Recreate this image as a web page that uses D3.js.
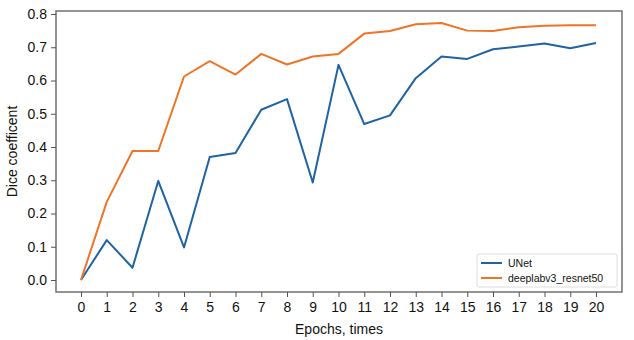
<!DOCTYPE html>
<html>
<head>
<meta charset="utf-8">
<script src="https://cdn.jsdelivr.net/npm/d3@7"></script>
<style>
  body { margin: 0; background: #fff; }
  text { font-family: "Liberation Sans", Arial, sans-serif; fill: #111; }
</style>
</head>
<body>
<div id="chart"></div>
<script>
// epochs along x, dice values per model
const epochs = d3.range(0, 21);
const unet = [0, 0.12, 0.037, 0.298, 0.098, 0.37, 0.382, 0.512, 0.544, 0.293, 0.647,
  0.469, 0.495, 0.607, 0.672, 0.665, 0.694, 0.702, 0.711, 0.697, 0.713];
const deeplab = [0, 0.235, 0.388, 0.388, 0.612, 0.658, 0.618, 0.68, 0.648, 0.672, 0.68,
  0.741, 0.749, 0.769, 0.773, 0.75, 0.749, 0.76, 0.765, 0.766, 0.766];
const yTicks = [0, 0.1, 0.2, 0.3, 0.4, 0.5, 0.6, 0.7, 0.8];
const seriesNames = ["UNet", "deeplabv3_resnet50"];
const colors = ["#1f63a3", "#ef7425"];

const width = 634, height = 340;
const box = { left: 56, right: 622, top: 11, bottom: 292 };

const svg = d3.select("#chart").append("svg")
  .attr("width", width)
  .attr("height", height);

const x = d3.scaleLinear().domain([0, 20]).range([81, 596]);
const y = d3.scaleLinear().domain([0, 0.8]).range([280, 14]);

// frame
svg.append("rect")
  .attr("x", box.left).attr("y", box.top)
  .attr("width", box.right - box.left).attr("height", box.bottom - box.top)
  .attr("fill", "none").attr("stroke", "#707070").attr("stroke-width", 1.5);

const yAxis = svg.append("g")
  .attr("transform", `translate(${box.left},0)`)
  .call(d3.axisLeft(y).tickValues(yTicks).tickFormat(d3.format(".1f")).tickSize(5).tickPadding(4));
const xAxis = svg.append("g")
  .attr("transform", `translate(0,${box.bottom})`)
  .call(d3.axisBottom(x).tickValues(epochs).tickFormat(d3.format("d")).tickSize(5).tickPadding(5));

[yAxis, xAxis].forEach(ax => {
  ax.select(".domain").remove();
  ax.selectAll(".tick line").attr("stroke", "#555").attr("stroke-width", 1);
  ax.selectAll(".tick text").style("font-size", "14px").attr("fill", "#111");
});

svg.append("text")
  .attr("x", (box.left + box.right) / 2)
  .attr("y", 334)
  .attr("text-anchor", "middle")
  .style("font-size", "14px")
  .text("Epochs, times");

svg.append("text")
  .attr("transform", `translate(17,${(box.top + box.bottom) / 2}) rotate(-90)`)
  .attr("text-anchor", "middle")
  .style("font-size", "14px")
  .text("Dice coefficent");

const line = d3.line().x((d, i) => x(epochs[i])).y(d => y(d));

[unet, deeplab].forEach((vals, i) => {
  svg.append("path")
    .datum(vals)
    .attr("d", line)
    .attr("fill", "none")
    .attr("stroke", colors[i])
    .attr("stroke-width", 2)
    .attr("stroke-linejoin", "round");
});

// legend
const leg = svg.append("g").attr("transform", "translate(477,254)");
leg.append("rect")
  .attr("width", 140).attr("height", 33).attr("rx", 2)
  .attr("fill", "#fff").attr("stroke", "#ddd");
seriesNames.forEach((name, i) => {
  const ly = 9 + i * 15;
  leg.append("line")
    .attr("x1", 4).attr("x2", 25).attr("y1", ly).attr("y2", ly)
    .attr("stroke", colors[i]).attr("stroke-width", 2);
  leg.append("text")
    .attr("x", 31).attr("y", ly + 4)
    .style("font-size", "10.5px")
    .text(name);
});
</script>
</body>
</html>
